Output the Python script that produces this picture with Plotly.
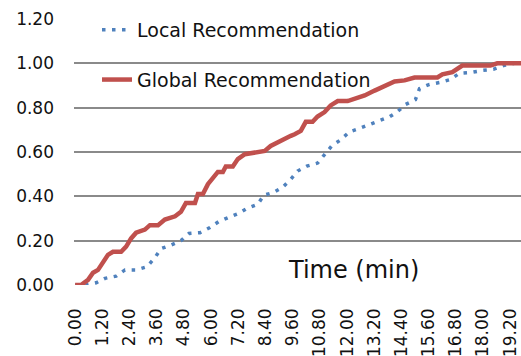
import plotly.graph_objects as go

# ---- data ----
local_time = [0, 0.30, 0.48, 0.93, 1.32, 1.81, 2.20, 2.69, 3.17, 3.52, 3.79, 4.23, 4.67, 5.02,
              5.51, 5.95, 6.34, 6.78, 7.22, 7.58, 8.06, 8.33, 8.77, 9.16, 9.52, 9.82, 10.22,
              10.70, 11.01, 11.32, 11.72, 12.11, 12.51, 12.95, 13.39, 13.88, 14.23, 14.58,
              15.02, 15.20, 15.64, 16.12, 16.56, 16.96, 17.49, 17.97, 18.46, 18.94, 19.38, 19.7]
local_value = [0, 0, 0, 0.01, 0.03, 0.04, 0.068, 0.068, 0.082, 0.123, 0.164, 0.18, 0.2, 0.232,
               0.236, 0.259, 0.286, 0.305, 0.323, 0.345, 0.364, 0.405, 0.418, 0.441, 0.477,
               0.514, 0.536, 0.55, 0.586, 0.627, 0.655, 0.691, 0.705, 0.723, 0.741, 0.759,
               0.782, 0.814, 0.836, 0.886, 0.905, 0.914, 0.927, 0.955, 0.959, 0.968, 0.973,
               0.991, 1.0, 1.0]

global_time = [0, 0.26, 0.57, 0.79, 1.01, 1.23, 1.45, 1.67, 2.03, 2.25, 2.47, 2.69, 3.08, 3.30,
               3.66, 3.96, 4.41, 4.67, 4.89, 5.07, 5.29, 5.42, 5.64, 5.86, 6.08, 6.30, 6.52,
               6.65, 6.96, 7.18, 7.49, 7.93, 8.37, 8.63, 8.94, 9.25, 9.52, 9.69, 9.96, 10.18,
               10.48, 10.70, 11.01, 11.28, 11.59, 12.03, 12.33, 12.78, 13.22, 13.66, 14.10,
               14.54, 14.98, 15.99, 16.21, 16.65, 16.87, 17.09, 18.33, 18.63, 19.7]
global_value = [0, 0, 0.023, 0.055, 0.068, 0.105, 0.136, 0.15, 0.15, 0.173, 0.21, 0.236, 0.25,
                0.27, 0.27, 0.295, 0.31, 0.33, 0.37, 0.37, 0.37, 0.41, 0.41, 0.455, 0.485,
                0.51, 0.51, 0.535, 0.535, 0.568, 0.59, 0.60, 0.605, 0.627, 0.645, 0.66, 0.673,
                0.68, 0.695, 0.736, 0.736, 0.76, 0.78, 0.81, 0.83, 0.83, 0.84, 0.855, 0.877,
                0.90, 0.918, 0.923, 0.936, 0.936, 0.95, 0.96, 0.973, 0.99, 0.99, 1.0, 1.0]

x_tick_values = [0, 1.2, 2.4, 3.6, 4.8, 6.0, 7.2, 8.4, 9.6, 10.8, 12.0, 13.2, 14.4, 15.6,
                 16.8, 18.0, 19.2]
x_tick_labels = ["0.00", "1.20", "2.40", "3.60", "4.80", "6.00", "7.20", "8.40", "9.60",
                 "10.80", "12.00", "13.20", "14.40", "15.60", "16.80", "18.00", "19.20"]
y_tick_values = [0, 0.2, 0.4, 0.6, 0.8, 1.0, 1.2]
y_tick_labels = ["0.00", "0.20", "0.40", "0.60", "0.80", "1.00", "1.20"]

FONT = "DejaVu Sans"
GRID = "#8a8a8a"
TEXT = "#111111"

fig = go.Figure()
fig.add_trace(go.Scatter(
    x=local_time, y=local_value, mode="lines", name="Local Recommendation",
    legendgroup="a",
    line=dict(color="#4F81BD", width=3.5, dash="3.5px,6.5px"),
))
fig.add_trace(go.Scatter(
    x=global_time, y=global_value, mode="lines", name="Global Recommendation",
    legendgroup="b",
    line=dict(color="#C0504D", width=4.5),
))

fig.update_layout(
    width=521, height=356,
    margin=dict(l=74, r=0, t=19, b=71),
    paper_bgcolor="white", plot_bgcolor="white",
    font=dict(family=FONT, size=17, color=TEXT),
    showlegend=True,
    legend=dict(
        x=(97 - 74) / 447, y=(285 - 11) / 266, xanchor="left", yanchor="top",
        bgcolor="rgba(0,0,0,0)", font=dict(size=19, family=FONT, color=TEXT),
        tracegroupgap=22, itemclick=False,
    ),
    xaxis=dict(
        range=[-0.05, 19.68], tickmode="array", tickvals=x_tick_values,
        ticktext=x_tick_labels, tickangle=-90, showgrid=False, zeroline=False,
        showline=False, ticks="", automargin=False, ticklabelstandoff=19,
        ticklabeloverflow="allow",
        tickfont=dict(size=17, family=FONT, color=TEXT),
    ),
    yaxis=dict(
        range=[0, 1.2], tickmode="array", tickvals=y_tick_values,
        ticktext=y_tick_labels, showgrid=True, gridcolor=GRID, gridwidth=1.5,
        zeroline=False, showline=False, ticks="", automargin=False,
        ticklabelstandoff=19, tickfont=dict(size=17, family=FONT, color=TEXT),
    ),
    annotations=[dict(
        text="Time (min)", xref="paper", yref="paper", x=(353 - 74) / 447,
        y=(285 - 270) / 266, xanchor="center", yanchor="middle", showarrow=False,
        font=dict(size=24, family=FONT, color=TEXT),
    )],
)

fig.write_html(
    "out.html",
    config={"displayModeBar": False},
    post_script="document.body.style.margin='0';document.body.style.overflow='hidden';",
)
